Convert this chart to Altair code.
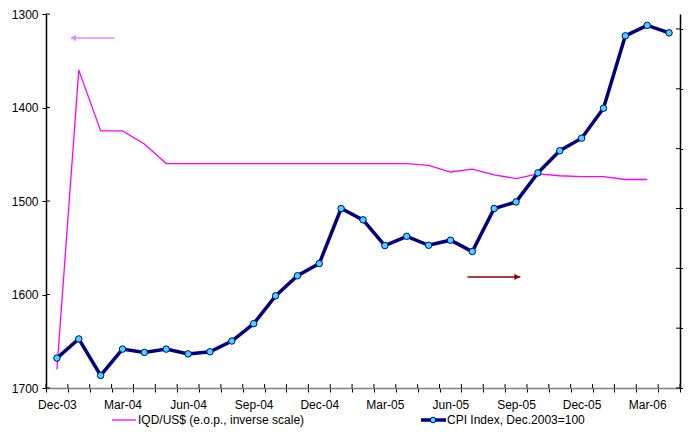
import json
import altair as alt
import pandas as pd

months = ["Dec-03", "Jan-04", "Feb-04", "Mar-04", "Apr-04", "May-04", "Jun-04", "Jul-04",
          "Aug-04", "Sep-04", "Oct-04", "Nov-04", "Dec-04", "Jan-05", "Feb-05", "Mar-05",
          "Apr-05", "May-05", "Jun-05", "Jul-05", "Aug-05", "Sep-05", "Oct-05", "Nov-05",
          "Dec-05", "Jan-06", "Feb-06", "Mar-06", "Apr-06"]

iqd = [1680, 1360, 1425, 1425, 1439, 1460, 1460, 1460, 1460, 1460, 1460, 1460, 1460,
       1460, 1460, 1460, 1460, 1462, 1469, 1466, 1472, 1476, 1471, 1473, 1474, 1474,
       1477, 1477]

cpi = [100, 106.4, 94.2, 103, 101.9, 103, 101.4, 102.1, 105.7, 111.5, 120.8, 127.5,
       131.6, 150, 146.2, 137.6, 140.7, 137.7, 139.4, 135.6, 150, 152.2, 161.9, 169.3,
       173.5, 183.5, 207.7, 211.2, 208.7]

left_ticks = [1300, 1400, 1500, 1600, 1700]
right_ticks = [90, 110, 130, 150, 170, 190, 210]

W, H = 634, 374
PAD = {"left": 38, "top": 6, "right": 3, "bottom": 42}
FONT = "Liberation Sans"
PT_FILL = "#3ddcff"

df_iqd = pd.DataFrame({"i": list(range(len(iqd))), "month": months[:len(iqd)], "iqd": iqd})
df_cpi = pd.DataFrame({"i": list(range(len(cpi))), "month": months, "cpi": cpi})

n = len(months)
half_ticks = [k - 0.5 for k in range(n + 1)]
lab_arr = [m if k % 3 == 0 else "" for k, m in enumerate(months)] + [""]
label_expr = json.dumps(lab_arr) + "[round(datum.value + 0.5)]"

xscale = alt.Scale(domain=[-0.5, n - 0.5], nice=False, zero=False)
xaxis = alt.Axis(values=half_ticks, labelExpr=label_expr, labelOffset=W / n / 2,
                 labelFlush=False, labelOverlap=False, labelBound=False, grid=False,
                 title=None, domainColor="#808080", domainWidth=1.5, tickColor="#000",
                 tickSize=4, labelPadding=7, labelFontSize=12, labelFont=FONT,
                 labelColor="#000")

yl_scale = alt.Scale(domain=[1300, 1700], reverse=True, nice=False, zero=False)
yl_axis = alt.Axis(values=left_ticks, grid=False, title=None, domainColor="#000",
                   tickColor="#000", tickSize=4, labelPadding=4, labelFontSize=12,
                   labelFont=FONT, labelColor="#000", format="d", labelOverlap=False)

yr_scale = alt.Scale(domain=[90, 215], nice=False, zero=False)
yr_axis = alt.Axis(values=right_ticks, grid=False, title=None, labels=False,
                   domainColor="#000", tickColor="#000", tickSize=4, orient="right")


def XF(f):
    return alt.X(f, scale=xscale, axis=xaxis)


def YL(f):
    return alt.Y(f, scale=yl_scale, axis=yl_axis)


def YR(f):
    return alt.Y(f, scale=yr_scale, axis=yr_axis)


iqd_line = alt.Chart(df_iqd).mark_line(color="#ff00ff", strokeWidth=1.3).encode(
    x=XF("i:Q"), y=YL("iqd:Q"))

# inward halves of the crossing ticks
df_lt = pd.DataFrame({"v": left_ticks})
left_in = alt.Chart(df_lt).mark_rule(color="#000").encode(
    y=YL("v:Q"), x=alt.value(0), x2=alt.value(4))
df_xt = pd.DataFrame({"t": half_ticks})
x_in = alt.Chart(df_xt).mark_rule(color="#000").encode(
    x=XF("t:Q"), y=alt.value(H - 4), y2=alt.value(H))

# arrows (annotations, in data space)
arr = pd.DataFrame({
    "x1": [0.65, 18.78], "x2": [2.64, 21.2], "y": [1325.7, 1581.2],
    "hx": [0.75, 21.05], "shape": ["triangle-left", "triangle-right"],
    "c": ["#e38aff", "#8b0000"]})
arrow_lines = alt.Chart(arr).mark_rule(strokeWidth=1.5).encode(
    x=XF("x1:Q"), x2="x2:Q", y=YL("y:Q"), color=alt.Color("c:N", scale=None))
arrow_heads = alt.Chart(arr).mark_point(filled=True, size=40, opacity=1).encode(
    x=XF("hx:Q"), y=YL("y:Q"),
    shape=alt.Shape("shape:N", scale=None), color=alt.Color("c:N", scale=None))

one = pd.DataFrame({"a": [0]})
LY = 406
leg1_line = alt.Chart(one).mark_rule(color="#ff00ff", strokeWidth=1.3).encode(
    x=alt.value(66), x2=alt.value(90), y=alt.value(LY))
leg1_text = alt.Chart(one).mark_text(align="left", baseline="middle", font=FONT,
                                     fontSize=12, color="#000").encode(
    x=alt.value(92), y=alt.value(LY), text=alt.value("IQD/US$ (e.o.p., inverse scale)"))
leg2_line = alt.Chart(one).mark_rule(color="#000080", strokeWidth=3.5).encode(
    x=alt.value(375), x2=alt.value(400), y=alt.value(LY))
leg2_pt = alt.Chart(one).mark_point(filled=True, fill=PT_FILL, stroke="#000080",
                                    strokeWidth=1, size=32, opacity=1).encode(
    x=alt.value(387), y=alt.value(LY))
leg2_text = alt.Chart(one).mark_text(align="left", baseline="middle", font=FONT,
                                     fontSize=12, color="#000").encode(
    x=alt.value(401), y=alt.value(LY), text=alt.value("CPI Index, Dec.2003=100"))

left = alt.layer(iqd_line, left_in, x_in, arrow_lines, arrow_heads,
                 leg1_line, leg1_text, leg2_line, leg2_pt, leg2_text)

cpi_line = alt.Chart(df_cpi).mark_line(color="#000080", strokeWidth=3.5).encode(
    x=XF("i:Q"), y=YR("cpi:Q"))
cpi_pts = alt.Chart(df_cpi).mark_point(filled=True, fill=PT_FILL, stroke="#000080",
                                       strokeWidth=1, size=42, opacity=1).encode(
    x=XF("i:Q"), y=YR("cpi:Q"))
df_rt = pd.DataFrame({"v": right_ticks})
right_in = alt.Chart(df_rt).mark_rule(color="#000").encode(
    y=YR("v:Q"), x=alt.value(W - 4), x2=alt.value(W))
right = alt.layer(cpi_line, cpi_pts, right_in)

chart = alt.layer(left, right).resolve_scale(y="independent").properties(
    width=W, height=H,
    padding=PAD,
    autosize=alt.AutoSizeParams(type="none"),
    background="#ffffff",
).configure_view(stroke=None).configure_axis(domainWidth=1.5, labelOverlap=False)

chart.save("out.html", embed_options={"renderer": "svg", "actions": False})
